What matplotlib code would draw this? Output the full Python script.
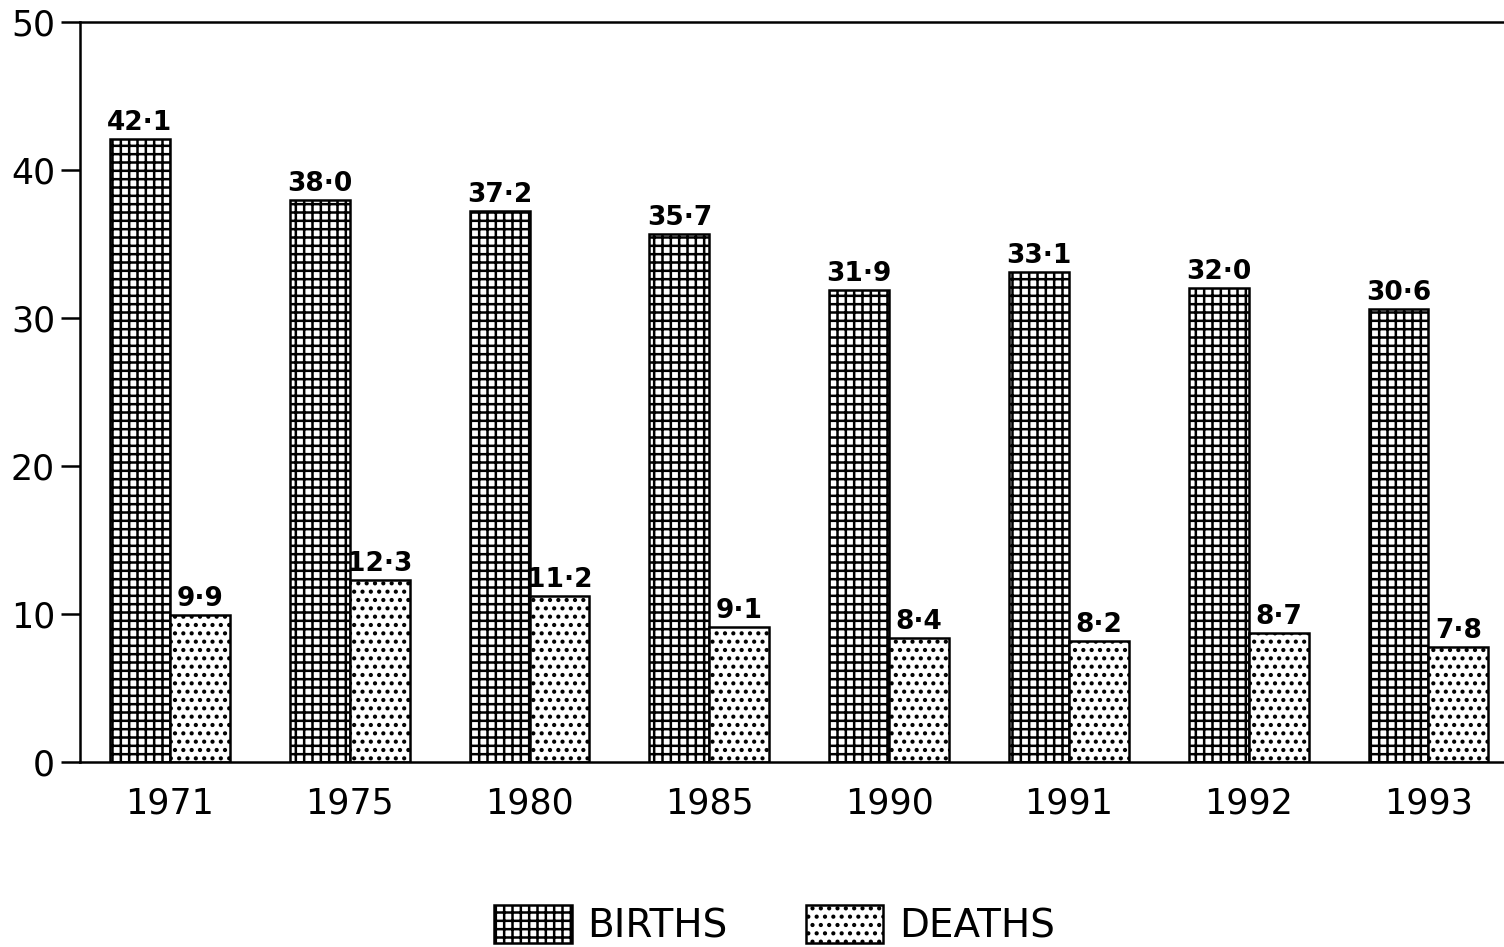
import matplotlib
matplotlib.use('Agg')
import matplotlib.pyplot as plt
import numpy as np

years = ['1971', '1975', '1980', '1985', '1990', '1991', '1992', '1993']
births = [42.1, 38.0, 37.2, 35.7, 31.9, 33.1, 32.0, 30.6]
deaths = [9.9, 12.3, 11.2, 9.1, 8.4, 8.2, 8.7, 7.8]

plt.rcParams['hatch.linewidth'] = 1.8
plt.rcParams['font.family'] = 'DejaVu Sans'

fig = plt.figure(figsize=(15.04, 9.47), dpi=100)
ax = fig.add_axes([0.0532, 0.1954, 0.9468, 0.7814])

x = np.arange(len(years))
w = 0.333
b1 = ax.bar(x - w / 2, births, w, facecolor='white', edgecolor='black', hatch='++', linewidth=1.8, label='BIRTHS')
b2 = ax.bar(x + w / 2, deaths, w, facecolor='white', edgecolor='black', hatch='..', linewidth=1.8, label='DEATHS')

# value labels with raised dot as in the printed original
for i in range(len(years)):
    ax.text(x[i] - w / 2, births[i] + 0.2, ('%.1f' % births[i]).replace('.', '\u00b7'),
            ha='center', va='bottom', fontsize=19, fontweight='bold')
    ax.text(x[i] + w / 2, deaths[i] + 0.2, ('%.1f' % deaths[i]).replace('.', '\u00b7'),
            ha='center', va='bottom', fontsize=19, fontweight='bold')

ax.set_xlim(-0.5, 7.42)
ax.set_ylim(0, 50)
ax.set_yticks([0, 10, 20, 30, 40, 50])
ax.set_xticks(x)
ax.set_xticklabels(years)
ax.tick_params(axis='x', length=0, pad=18, labelsize=25)
ax.tick_params(axis='y', length=14, width=1.8, pad=4, labelsize=25)
ax.spines['right'].set_visible(False)
for s in ['left', 'top', 'bottom']:
    ax.spines[s].set_linewidth(1.8)

fig.legend(handles=[b1, b2], loc='lower center', bbox_to_anchor=(0.515, -0.035), ncol=2,
           frameon=False, fontsize=28, handlelength=2.0, handleheight=1.1,
           handletextpad=0.4, columnspacing=2.0)

fig.savefig('out.png', dpi=100)
